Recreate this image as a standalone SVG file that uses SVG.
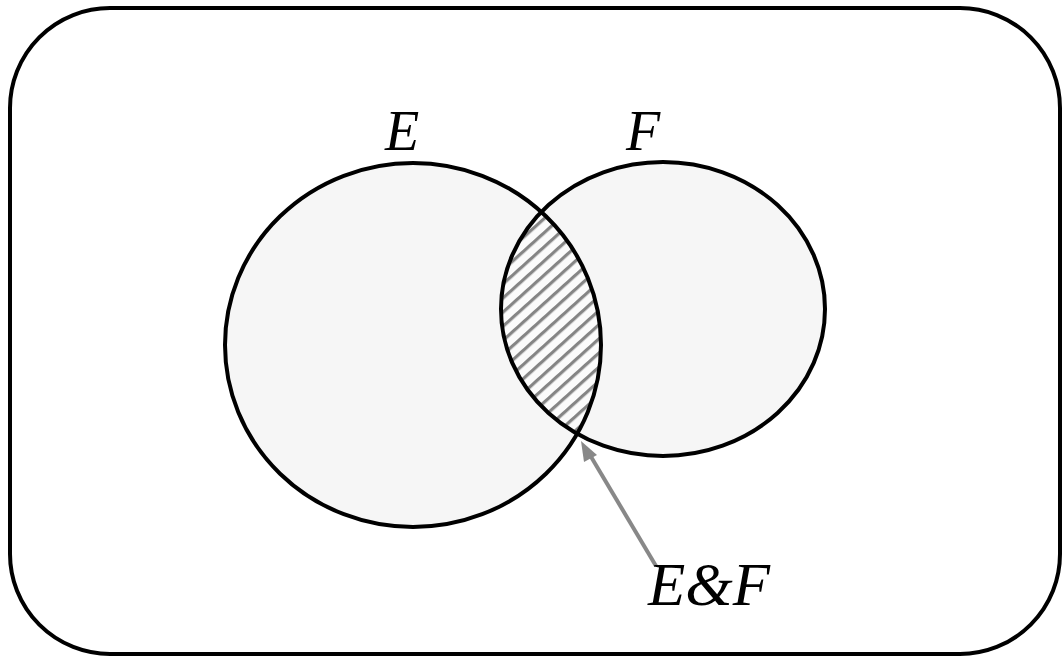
<svg xmlns="http://www.w3.org/2000/svg" width="1063" height="657" viewBox="0 0 1063 657">
<style>
.outline{fill:none;stroke:#000;stroke-width:4}
.set{fill:#f6f6f6;stroke:none}
.conn{stroke:#888;stroke-width:4;fill:none}
</style>
<defs>
<pattern id="hatch" width="10.5" height="10.5" patternUnits="userSpaceOnUse" patternTransform="rotate(-42)">
<rect width="10.5" height="10.5" fill="#fbfbfb"/>
<rect width="10.5" height="3.2" fill="#858585"/>
</pattern>
<clipPath id="clipF"><ellipse cx="663" cy="309" rx="162" ry="147"/></clipPath>
</defs>
<g id="universe">
<rect x="10" y="8" width="1050" height="646" rx="100" ry="100" class="outline"/>
</g>
<g id="setE">
<ellipse cx="413" cy="345" rx="188" ry="182" class="set"/>
</g>
<g id="setF">
<ellipse cx="663" cy="309" rx="162" ry="147" class="set"/>
</g>
<g id="intersection">
<ellipse cx="413" cy="345" rx="188" ry="182" fill="url(#hatch)" clip-path="url(#clipF)"/>
</g>
<g id="outlines">
<ellipse cx="413" cy="345" rx="188" ry="182" class="outline"/>
<ellipse cx="663" cy="309" rx="162" ry="147" class="outline"/>
</g>
<g id="connectors">
<line x1="656" y1="566" x2="587" y2="450" class="conn"/>
<path d="M581,441 L597,455 L584,462 Z" fill="#888"/>
</g>
<g id="labels" font-family="'Liberation Serif', 'Times New Roman', Times, serif" font-style="italic" fill="#000">
<text x="385" y="150" font-size="56">E</text>
<text x="626" y="150" font-size="56">F</text>
<text x="648" y="605" font-size="61">E&amp;F</text>
</g>
</svg>
